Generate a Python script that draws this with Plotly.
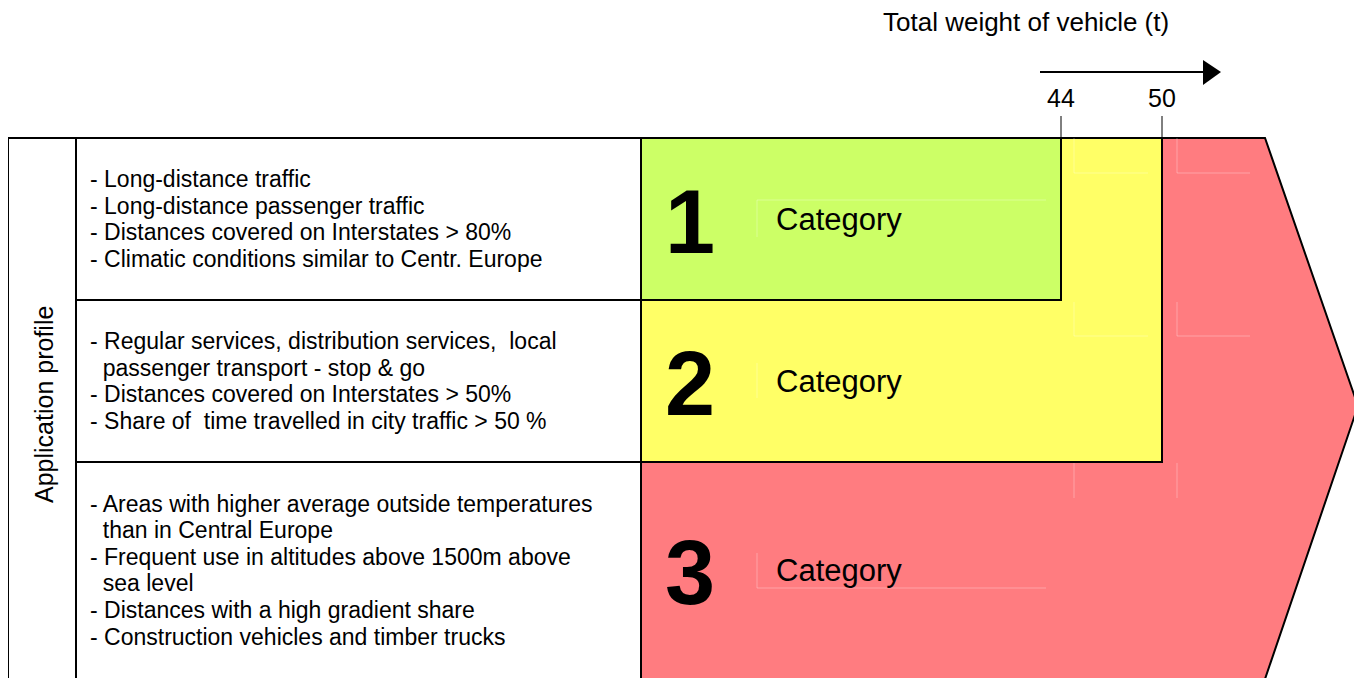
import plotly.graph_objects as go

# ---------------- data ----------------
weights = [44, 50]
weight_labels = ["44", "50"]
axis_title = "Total weight of vehicle (t)"
side_title = "Application profile"
category_numbers = ["1", "2", "3"]
category_label = "Category"
category_colors = ["#CCFF66", "#FFFF66", "#FF7C80"]

profile_1 = [
    "- Long-distance traffic",
    "- Long-distance passenger traffic",
    "- Distances covered on Interstates > 80%",
    "- Climatic conditions similar to Centr. Europe",
]
profile_2 = [
    "- Regular services, distribution services,  local",
    "  passenger transport - stop & go",
    "- Distances covered on Interstates > 50%",
    "- Share of  time travelled in city traffic > 50 %",
]
profile_3 = [
    "- Areas with higher average outside temperatures",
    "  than in Central Europe",
    "- Frequent use in altitudes above 1500m above",
    "  sea level",
    "- Distances with a high gradient share",
    "- Construction vehicles and timber trucks",
]
profiles = [profile_1, profile_2, profile_3]

# ---------------- layout geometry ----------------
W, H = 1362, 678
PAGE_OFF = 8                          # default body margin of the html page
FONT = "Arial, Liberation Sans, sans-serif"
ROWS = [138, 300, 462, 678]          # row boundaries (px)
X_OUT, X_LBL, X_CAT = 8, 76, 641     # table column borders
X44, PX_PER_T = 1061, 101 / 6        # weight scale


def x_of(w):
    return X44 + (w - 44) * PX_PER_T


X_RED_END = 1265
X_TIP, Y_TIP = 1358, 406
BLACK = "#000000"

shapes = []


def line(x0, y0, x1, y1, width=2, color=BLACK):
    shapes.append(dict(type="line", x0=x0, y0=y0, x1=x1, y1=y1, xref="x", yref="y",
                       line=dict(color=color, width=width)))


# red pentagon (category 3)
shapes.append(dict(type="path", xref="x", yref="y",
                   path=f"M {X_CAT},{ROWS[0]} L {X_RED_END},{ROWS[0]} L {X_TIP},{Y_TIP} "
                        f"L {X_RED_END},{ROWS[3]+1} L {X_CAT},{ROWS[3]+1} Z",
                   fillcolor=category_colors[2], line=dict(color=BLACK, width=2)))
# yellow (category 2) up to 50 t
shapes.append(dict(type="rect", xref="x", yref="y", x0=X_CAT, y0=ROWS[0], x1=x_of(weights[1]), y1=ROWS[2],
                   fillcolor=category_colors[1], line=dict(color=BLACK, width=2)))
# green (category 1) up to 44 t
shapes.append(dict(type="rect", xref="x", yref="y", x0=X_CAT, y0=ROWS[0], x1=x_of(weights[0]), y1=ROWS[1],
                   fillcolor=category_colors[0], line=dict(color=BLACK, width=2)))

# faint leftover text-box edges
FAINT = "rgba(255,255,255,0.3)"
for xa, xb in [(1074, 1148), (1177, 1250)]:
    for ya, yb in [(138, 173), (302, 336)]:
        line(xa, ya, xa, yb, 1, FAINT)
        line(xa, yb, xb, yb, 1, FAINT)
    line(xa, 463, xa, 498, 1, FAINT)
for ya, yb in [(200, 237), (363, 398), (553, 588)]:
    line(757, ya, 757, yb, 1, FAINT)
line(757, 200, 1046, 200, 1, FAINT)
line(757, 588, 1046, 588, 1, FAINT)

# table lines
line(X_OUT, ROWS[0], X_CAT, ROWS[0])
line(X_OUT, ROWS[0], X_OUT, H + 2)
line(X_LBL, ROWS[0], X_LBL, H + 2)
line(X_CAT, ROWS[0], X_CAT, H + 2)
for y in ROWS[1:3]:
    line(X_LBL, y, X_CAT, y)

# weight ticks
for w in weights:
    line(x_of(w), 116, x_of(w), ROWS[0], 1)

# arrow
line(1040, 72, 1206, 72, 2)
shapes.append(dict(type="path", xref="x", yref="y", path="M 1203,60 L 1221,72 L 1203,85 Z",
                   fillcolor=BLACK, line=dict(color=BLACK, width=0)))

annotations = []


def text(x, y, s, size, xanchor="left", bold=False, angle=0):
    annotations.append(dict(x=x, y=y, xref="x", yref="y", text=(f"<b>{s}</b>" if bold else s),
                            showarrow=False, xanchor=xanchor, yanchor="middle", textangle=angle,
                            font=dict(family=FONT, size=size, color=BLACK)))


text(1026, 22, axis_title, 26, "center")
for w, lab in zip(weights, weight_labels):
    text(x_of(w), 98, lab, 25, "center")
text(44, 405, side_title, 25, "center", angle=-90)

LINE_H = 26.6
for r, lines in enumerate(profiles):
    yc = (ROWS[r] + ROWS[r + 1]) / 2
    n = len(lines)
    for i, s in enumerate(lines):
        y = yc + (i - (n - 1) / 2) * LINE_H
        if s.startswith("  "):
            s = "&nbsp;&nbsp;" + s[2:]
        s = s.replace("  ", "&nbsp; ")
        text(88, y, s, 23)

for r, num in enumerate(category_numbers):
    yc = (ROWS[r] + ROWS[r + 1]) / 2
    text(690, yc + 3, num, 90, "center", bold=True)
    text(774, yc, category_label, 31)

fig = go.Figure()
fig.update_layout(
    width=W - PAGE_OFF, height=H - PAGE_OFF, margin=dict(l=0, r=0, t=0, b=0),
    paper_bgcolor="white", plot_bgcolor="white",
    xaxis=dict(range=[PAGE_OFF, W], visible=False, fixedrange=True),
    yaxis=dict(range=[H, PAGE_OFF], visible=False, fixedrange=True),
    shapes=shapes, annotations=annotations, showlegend=False,
)
fig.write_html("out.html")
